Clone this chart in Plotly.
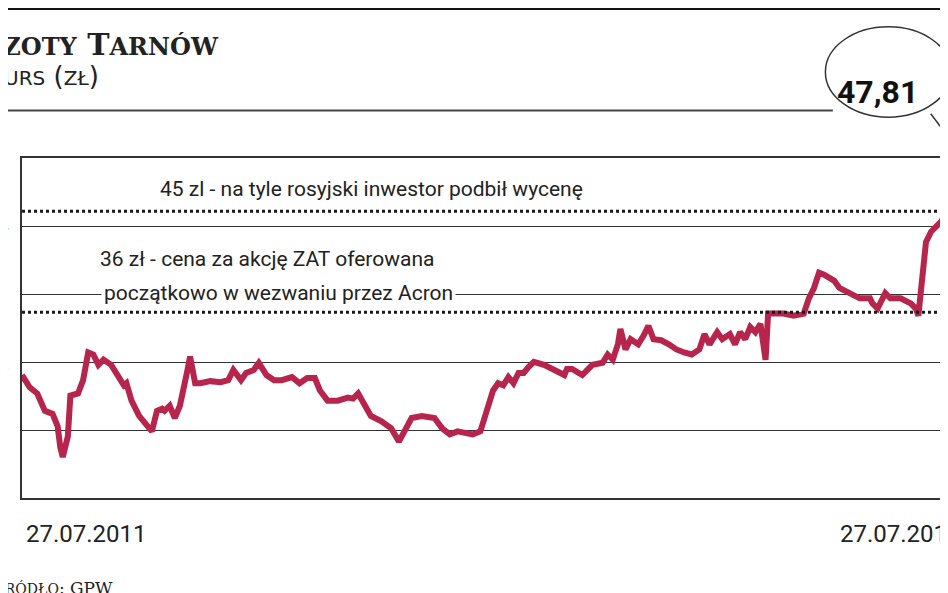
import pandas as pd
import plotly.graph_objects as go

# dni od 27.07.2011 i kurs (zł)
dni = [0, 3, 6, 9, 12, 14, 15, 16, 18, 19, 22, 24, 26, 28, 30, 32, 35, 37, 40, 41, 43, 46, 49, 51, 53, 55, 56, 58, 60, 62,
       65, 66, 68, 70, 74, 78, 81, 83, 86, 88, 91, 93, 96, 99, 102, 106, 109, 112, 115, 117, 120, 124, 128, 130, 132, 134,
       137, 141, 145, 148, 150, 153, 157, 162, 165, 168, 171, 174, 177, 180, 183, 185, 187, 189, 191, 193, 195, 197, 199,
       201, 205, 209, 213, 214, 216, 220, 222, 224, 228, 230, 232, 234, 235, 237, 239, 242, 244, 246, 248, 251, 254, 257,
       260, 263, 266, 268, 270, 273, 275, 278, 280, 282, 284, 286, 288, 290, 292, 293, 295, 299, 303, 307, 309, 311, 313,
       315, 319, 321, 325, 329, 333, 334, 336, 339, 341, 345, 349, 351, 352, 353, 355, 357, 361, 363, 365, 366]
kurs = [30.85, 29.77, 29.22, 27.69, 27.42, 26.33, 24.53, 23.62, 25.43, 29.04, 29.22, 30.40, 32.84, 32.66, 31.75, 32.20,
        31.75, 31.03, 29.95, 30.13, 28.59, 27.24, 26.33, 25.88, 27.69, 27.87, 27.69, 28.14, 27.06, 28.14, 31.30, 32.48,
        30.13, 30.13, 30.31, 30.22, 30.40, 31.30, 30.40, 31.03, 31.30, 31.93, 30.85, 30.40, 30.40, 30.67, 30.13, 30.58,
        30.58, 29.49, 28.59, 28.59, 28.86, 28.77, 29.22, 28.32, 27.24, 26.78, 26.15, 24.98, 25.88, 27.06, 27.24, 27.06,
        26.15, 25.61, 25.88, 25.79, 25.61, 25.88, 28.14, 29.49, 30.13, 29.95, 30.67, 30.13, 31.03, 31.03, 31.57, 32.02,
        31.75, 31.30, 30.85, 31.39, 31.39, 30.85, 31.30, 31.75, 31.93, 32.66, 32.20, 33.56, 34.91, 33.11, 34.01, 33.56,
        34.28, 35.19, 34.01, 33.92, 33.56, 33.11, 32.84, 32.66, 33.11, 34.46, 33.56, 34.64, 34.01, 34.46, 33.56, 34.64,
        34.01, 35.09, 34.64, 35.37, 32.20, 36.27, 36.27, 36.27, 36.09, 36.27, 37.62, 38.53, 39.88, 39.70, 39.16, 38.53,
        38.08, 37.62, 37.62, 37.17, 36.72, 38.08, 37.62, 37.62, 37.17, 36.72, 36.09, 38.08, 42.59, 43.50, 44.40, 45.30,
        48.01, 47.81]
y_ticks = [20, 26, 32, 38, 44, 50]

start = pd.Timestamp("2011-07-27")
daty = [start + pd.Timedelta(days=d) for d in dni]
end = pd.Timestamp("2012-07-27")

fig = go.Figure()
fig.add_trace(go.Scatter(x=daty, y=kurs, mode="lines",
                         line=dict(color="#b8254c", width=6), hoverinfo="skip"))

for v in [45.3, 36.4]:
    fig.add_shape(type="line", xref="paper", x0=0, x1=1, y0=v, y1=v,
                  line=dict(color="#1a1a1a", width=3, dash="dot"))

font = dict(family="Roboto", color="#222", size=21)
ann = [
    dict(x=0.145, y=47.3, text="45 zl - na tyle rosyjski inwestor podbił wycenę", xanchor="left"),
    dict(x=0.08, y=41.1, text="36 zł - cena za akcję ZAT oferowana", xanchor="left"),
    dict(x=0.085, y=38.05, text="początkowo w wezwaniu przez Acron", xanchor="left", bgcolor="white"),
]
for a in ann:
    fig.add_annotation(xref="paper", yref="y", showarrow=False, font=font, borderpad=2, **a)

for t in y_ticks:
    fig.add_annotation(xref="paper", x=-0.012, y=t, text=str(t), xanchor="right", showarrow=False,
                       font=dict(family="Roboto", size=21, color="#222"))

fig.add_annotation(xref="paper", yref="paper", x=0.002, y=-0.06, text="27.07.2011", xanchor="left",
                   yanchor="top", showarrow=False, font=dict(family="Roboto", size=24, color="#222"))
fig.add_annotation(xref="paper", yref="paper", x=0.875, y=-0.06, text="27.07.2012", xanchor="left",
                   yanchor="top", showarrow=False, font=dict(family="Roboto", size=24, color="#222"))

# nagłówek, źródło
fig.add_annotation(xref="paper", yref="paper", x=-0.048, y=1.335, text="<b>A<span style='font-size:24px'>ZOTY</span> T<span style='font-size:24px'>ARNÓW</span></b>",
                   xanchor="left", yanchor="middle", showarrow=False,
                   font=dict(family="DejaVu Serif", size=30, color="#222"))
fig.add_annotation(xref="paper", yref="paper", x=-0.04, y=1.24, text="K<span style='font-size:20px'>URS</span> (<span style='font-size:20px'>ZŁ</span>)",
                   xanchor="left", yanchor="middle", showarrow=False,
                   font=dict(family="DejaVu Sans", size=26, color="#222"))
fig.add_annotation(xref="paper", yref="paper", x=-0.033, y=-0.265, text="Ź<span style='font-size:14px'>RÓDŁO</span>: GPW",
                   xanchor="left", yanchor="middle", showarrow=False,
                   font=dict(family="DejaVu Serif", size=17, color="#222"))

# górny pasek i linia pod tytułem
fig.add_shape(type="rect", xref="paper", yref="paper", x0=-0.03, x1=1.01, y0=1.435, y1=1.5,
              fillcolor="#141414", line_width=0)
fig.add_shape(type="line", xref="paper", yref="paper", x0=-0.03, x1=0.87, y0=1.14, y1=1.14,
              line=dict(color="#444", width=2))

# dymek z ostatnim kursem
fig.add_shape(type="line", xref="paper", yref="paper", x0=0.975, x1=1.0, y0=1.13, y1=1.04,
              line=dict(color="#333", width=1.5))
fig.add_shape(type="circle", xref="paper", yref="paper", x0=0.862, x1=0.997, y0=1.12, y1=1.386,
              fillcolor="white", line=dict(color="#333", width=1.5))
fig.add_annotation(xref="paper", yref="paper", x=0.872, y=1.255, text="<b>%s</b>" % f"{kurs[-1]:.2f}".replace(".", ","),
                   xanchor="left", showarrow=False,
                   font=dict(family="Roboto", size=32, color="#111"))

fig.update_xaxes(range=[start, end], showgrid=False, showticklabels=False, ticks="",
                 showline=True, linecolor="#333", linewidth=1.5, mirror=True, zeroline=False)
fig.update_yaxes(range=[20, 50], tickvals=y_ticks, showticklabels=False, showgrid=True,
                 gridcolor="#333", gridwidth=1.2, showline=True, linecolor="#333", linewidth=1.5,
                 mirror=True, zeroline=False)
fig.update_layout(width=948, height=593, margin=dict(l=14, r=0, t=150, b=103),
                  plot_bgcolor="white", paper_bgcolor="white", showlegend=False)
fig.write_html("out.html")
